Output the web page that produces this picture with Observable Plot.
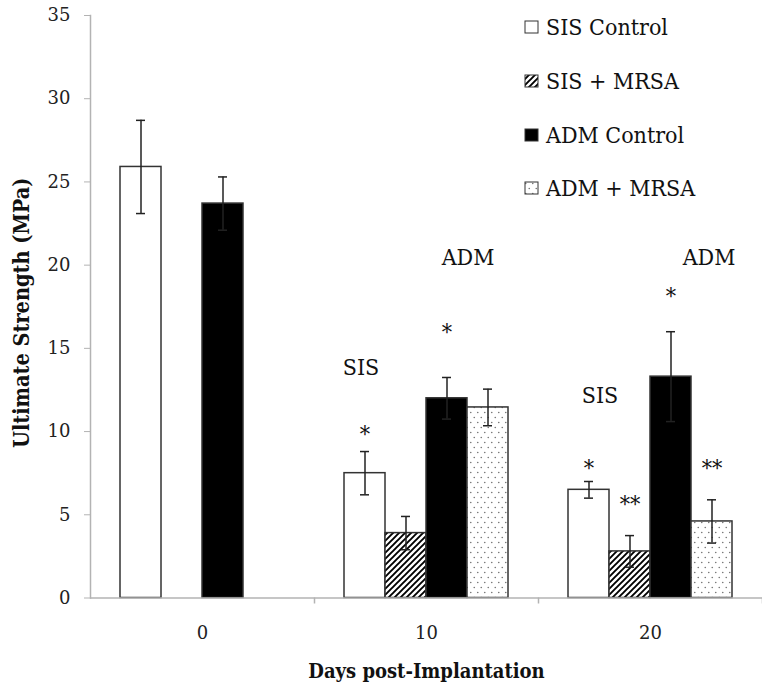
<!DOCTYPE html>
<html>
<head>
<meta charset="utf-8">
<script src="https://cdn.jsdelivr.net/npm/d3@7"></script>
<script src="https://cdn.jsdelivr.net/npm/@observablehq/plot@0.6"></script>
<style>
  body { margin: 0; background: #fff; }
  #wrap { position: relative; width: 762px; height: 686px; overflow: hidden; background: #fff; }
  .legend { position: absolute; left: 0; top: 0; font-family: "DejaVu Serif Condensed", "DejaVu Serif", serif; font-stretch: condensed; font-size: 23px; color: #111; }
  .legend .item { position: absolute; display: flex; align-items: center; height: 30px; white-space: nowrap; }
  .legend svg { margin-right: 6px; }
</style>
</head>
<body>
<div id="wrap"></div>
<script>
// ---- data ----
const days = ["0", "10", "20"];
const series = ["SIS Control", "SIS + MRSA", "ADM Control", "ADM + MRSA"];

const sisControl     = [25.9, 7.5, 6.5];
const sisControlErr  = [2.8, 1.3, 0.5];
const sisMrsa        = [null, 3.9, 2.8];
const sisMrsaErr     = [null, 1.0, 0.95];
const admControl     = [23.7, 12.0, 13.3];
const admControlErr  = [1.6, 1.25, 2.7];
const admMrsa        = [null, 11.45, 4.6];
const admMrsaErr     = [null, 1.1, 1.3];

const yTicks = [0, 5, 10, 15, 20, 25, 30, 35];

// significance annotations
const starDay    = ["10", "10", "20", "20", "20", "20"];
const starSeries = ["SIS Control", "ADM Control", "SIS Control", "SIS + MRSA", "ADM Control", "ADM + MRSA"];
const starValue  = [10.15, 16.3, 8.13, 6.0, 18.45, 8.14];
const starText   = ["*", "*", "*", "**", "*", "**"];

const labelDay    = ["10", "10", "20", "20"];
const labelSeries = ["SIS Control", "ADM + MRSA", "SIS Control", "ADM + MRSA"];
const labelValue  = [13.83, 20.47, 12.13, 20.47];
const labelText   = ["SIS", "ADM", "SIS", "ADM"];

// ---- build tables ----
const means = [sisControl, sisMrsa, admControl, admMrsa];
const errs = [sisControlErr, sisMrsaErr, admControlErr, admMrsaErr];
const rows = [];
days.forEach((day, i) => series.forEach((s, j) => {
  if (means[j][i] != null) rows.push({day, series: s, value: means[j][i], err: errs[j][i]});
}));
const stars = starDay.map((d, i) => ({day: d, series: starSeries[i], value: starValue[i], text: starText[i]}));
const labels = labelDay.map((d, i) => ({day: d, series: labelSeries[i], value: labelValue[i], text: labelText[i]}));
const labelDx = [-4, -20, 11, -3];

const fills = ["white", "url(#hatch)", "black", "url(#dots)"];
const annFont = "'DejaVu Serif Condensed', 'DejaVu Serif', serif";
const axisGray = "#b3b3b3";

const chart = Plot.plot({
  width: 762,
  height: 686,
  marginLeft: 90,
  marginRight: 0,
  marginTop: 15,
  marginBottom: 88.5,
  style: {fontFamily: "'DejaVu Serif', serif", fontSize: "18px", color: "#222", background: "white"},
  fx: {domain: days, paddingInner: 0, paddingOuter: 0, label: null},
  x: {domain: series, paddingInner: 0, paddingOuter: 0.73, axis: null},
  y: {domain: [0, 35], label: null},
  color: {type: "ordinal", domain: series, range: fills},
  marks: [
    Plot.barY(rows, {fx: "day", x: "series", y: "value", fill: "series", stroke: "#333", strokeWidth: 1.5}),
    Plot.ruleX(rows, {fx: "day", x: "series", y1: d => d.value - d.err, y2: d => d.value + d.err, stroke: "#222", strokeWidth: 1.5}),
    Plot.tickY(rows, {fx: "day", x: "series", y: d => d.value - d.err, insetLeft: 16, insetRight: 16, stroke: "#222", strokeWidth: 1.5}),
    Plot.tickY(rows, {fx: "day", x: "series", y: d => d.value + d.err, insetLeft: 16, insetRight: 16, stroke: "#222", strokeWidth: 1.5}),
    Plot.ruleY([0], {stroke: axisGray, strokeWidth: 1.5}),
    Plot.frame({anchor: "left", facet: "super", stroke: axisGray, strokeWidth: 1.5}),
    Plot.axisY({ticks: yTicks, tickSize: 6, tickPadding: 14, stroke: axisGray, fill: "#222", label: null}),
    Plot.axisFx({anchor: "bottom", tickSize: 0, tickPadding: 28, label: null, fill: "#222"}),
    Plot.axisFx({anchor: "bottom", tickSize: 6, fill: "none", label: null, dx: 112, stroke: axisGray, strokeWidth: 1.5}),
    Plot.text(stars, {fx: "day", x: "series", y: "value", text: "text", dy: 6, fontSize: 23, fontFamily: annFont, fill: "#111"}),
    ...labels.map((l, i) => Plot.text([l], {fx: "day", x: "series", y: "value", text: "text", dx: labelDx[i], fontSize: 23, fontFamily: annFont, fill: "#111"})),
    Plot.text(["Ultimate Strength (MPa)"], {facet: "super", frameAnchor: "left", textAnchor: "middle", lineAnchor: "middle", rotate: -90, dx: -68, dy: 6, fontWeight: "bold", fontSize: 21.5, fontFamily: annFont, fill: "#111"}),
    Plot.text(["Days post-Implantation"], {facet: "super", frameAnchor: "bottom", lineAnchor: "middle", dy: 74, fontWeight: "bold", fontSize: 20, fontFamily: annFont, fill: "#111"})
  ]
});

chart.insertAdjacentHTML("afterbegin", `
<defs>
  <pattern id="hatch" patternUnits="userSpaceOnUse" width="6" height="6">
    <rect width="6" height="6" fill="white"/>
    <path d="M-1,1 l2,-2 M0,6 l6,-6 M5,7 l2,-2" stroke="black" stroke-width="1.9"/>
  </pattern>
  <pattern id="dots" patternUnits="userSpaceOnUse" width="7" height="10">
    <rect width="7" height="10" fill="white"/>
    <circle cx="1.75" cy="2.5" r="0.8" fill="#777"/>
    <circle cx="5.25" cy="7.5" r="0.8" fill="#777"/>
  </pattern>
</defs>`);

const wrap = document.getElementById("wrap");
wrap.appendChild(chart);

// legend inside the plot area (top right)
const legend = document.createElement("div");
legend.className = "legend";
const legendCenters = [27, 81, 135, 188];
series.forEach((s, i) => {
  const item = document.createElement("div");
  item.className = "item";
  item.style.left = "524px";
  item.style.top = (legendCenters[i] - 15) + "px";
  item.innerHTML = `<svg width="16" height="15"><rect x="1" y="1" width="13" height="12" fill="${fills[i]}" stroke="#333" stroke-width="1"/></svg><span>${s}</span>`;
  legend.appendChild(item);
});
wrap.appendChild(legend);
</script>
</body>
</html>
